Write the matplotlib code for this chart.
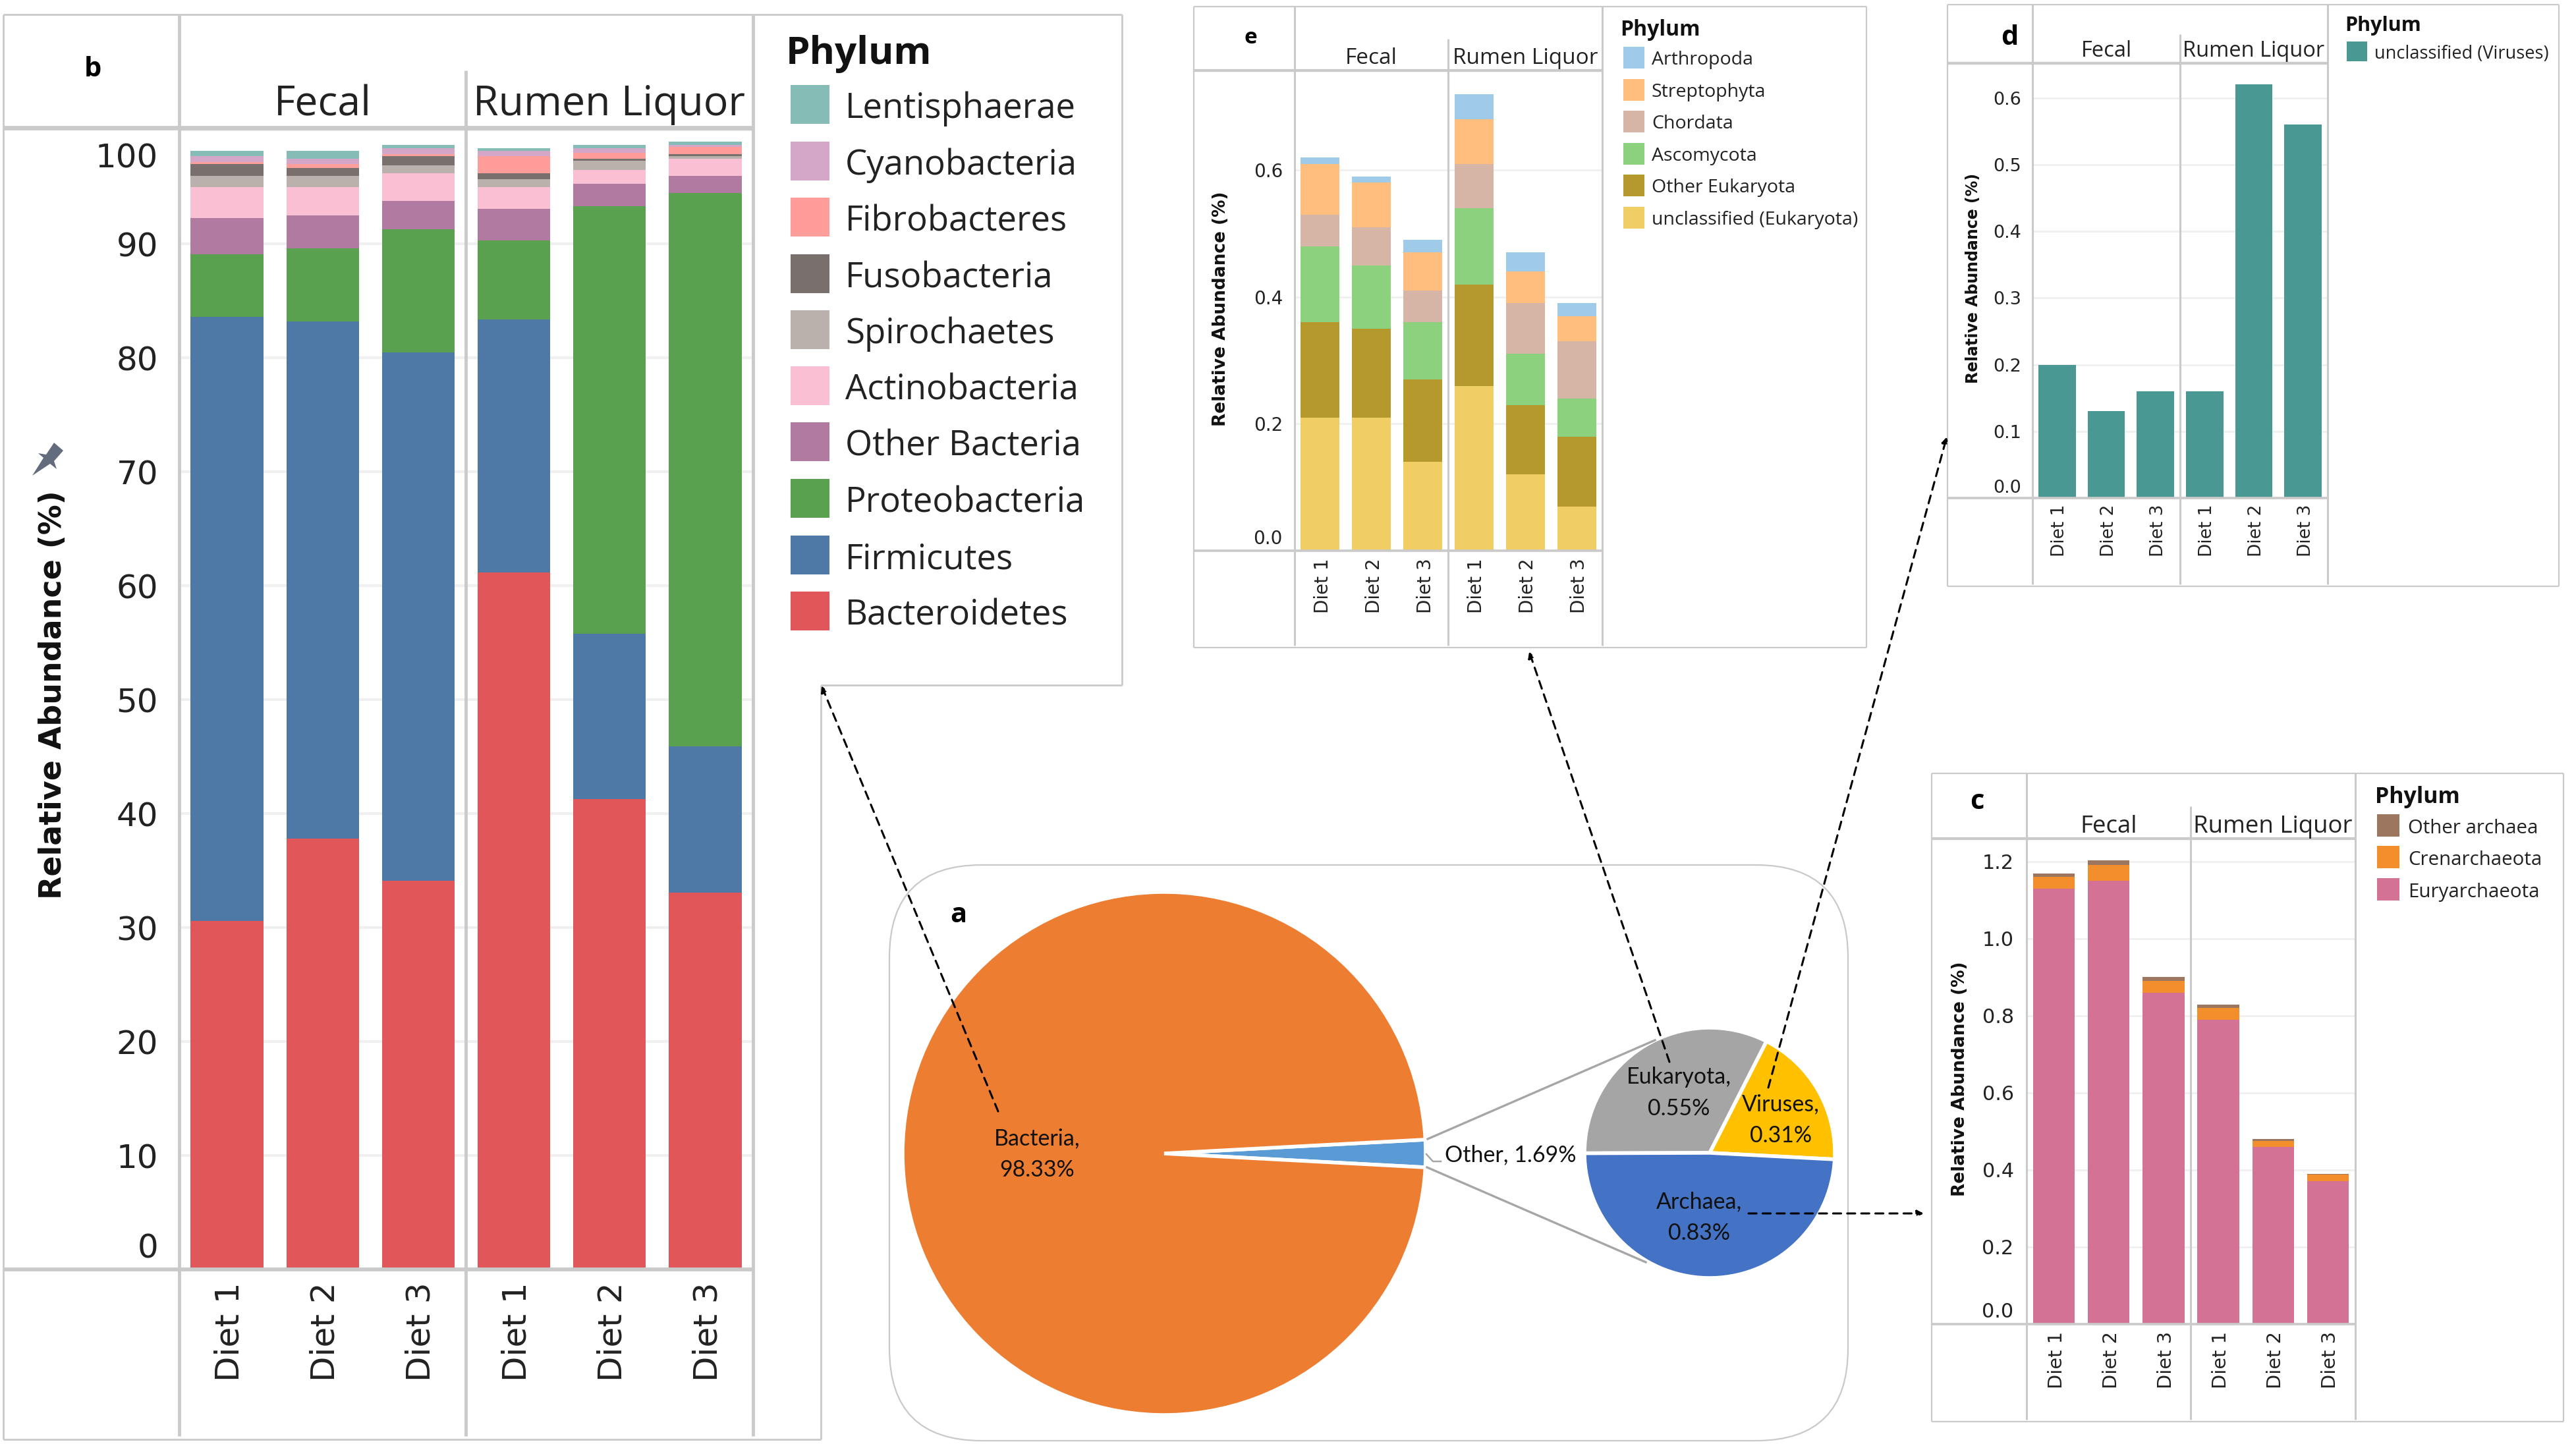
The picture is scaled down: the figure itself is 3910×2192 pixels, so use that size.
import numpy as np
import matplotlib
matplotlib.use('Agg')
import matplotlib.pyplot as plt
from matplotlib.patches import FancyBboxPatch, Polygon, Rectangle
from matplotlib.transforms import ScaledTranslation

W, H = 3910, 2192
GREY = '#cacaca'
FONT = 'Open Sans'
TICK_FONT = 'DejaVu Sans'

diets = ['Diet 1', 'Diet 2', 'Diet 3', 'Diet 1', 'Diet 2', 'Diet 3']
groups = ['Fecal', 'Rumen Liquor']

# panel a
main_names = ['Other', 'Bacteria']
main_share = [1.69, 98.33]
other_names = ['Viruses', 'Eukaryota', 'Archaea']
other_share = [0.31, 0.55, 0.83]

# panel b, bottom of the stack first
bacteria_names = ['Bacteroidetes', 'Firmicutes', 'Proteobacteria', 'Other Bacteria', 'Actinobacteria',
                  'Spirochaetes', 'Fusobacteria', 'Fibrobacteres', 'Cyanobacteria', 'Lentisphaerae']
bacteroidetes = [30.6, 37.8, 34.1, 61.2, 41.3, 33.1]
firmicutes = [53.0, 45.4, 46.4, 22.2, 14.5, 12.8]
proteobacteria = [5.5, 6.4, 10.8, 6.9, 37.5, 48.6]
other_bacteria = [3.2, 2.9, 2.5, 2.8, 2.0, 1.5]
actinobacteria = [2.7, 2.5, 2.4, 1.9, 1.2, 1.5]
spirochaetes = [1.0, 1.0, 0.7, 0.7, 0.8, 0.2]
fusobacteria = [1.0, 0.7, 0.8, 0.5, 0.2, 0.2]
fibrobacteres = [0.2, 0.3, 0.2, 1.5, 0.5, 0.6]
cyanobacteria = [0.5, 0.5, 0.5, 0.5, 0.4, 0.2]
lentisphaerae = [0.5, 0.7, 0.3, 0.2, 0.3, 0.3]
bacteria_series = [bacteroidetes, firmicutes, proteobacteria, other_bacteria, actinobacteria,
                   spirochaetes, fusobacteria, fibrobacteres, cyanobacteria, lentisphaerae]
bacteria_colors = ['#E15759', '#4E79A7', '#59A14F', '#B07AA1', '#FABFD2',
                   '#BAB0AC', '#79706E', '#FF9D9A', '#D4A6C8', '#86BCB6']
bacteria_ticks = [0, 10, 20, 30, 40, 50, 60, 70, 80, 90, 100]

# panel c
archaea_names = ['Euryarchaeota', 'Crenarchaeota', 'Other archaea']
euryarchaeota = [1.13, 1.15, 0.86, 0.79, 0.46, 0.37]
crenarchaeota = [0.03, 0.04, 0.03, 0.03, 0.015, 0.017]
other_archaea = [0.008, 0.012, 0.01, 0.008, 0.005, 0.003]
archaea_series = [euryarchaeota, crenarchaeota, other_archaea]
archaea_colors = ['#D37295', '#F28E2B', '#9D7660']
archaea_ticks = [0.0, 0.2, 0.4, 0.6, 0.8, 1.0, 1.2]

# panel d
virus_names = ['unclassified (Viruses)']
viruses = [0.20, 0.13, 0.16, 0.16, 0.62, 0.56]
virus_colors = ['#499894']
virus_ticks = [0.0, 0.1, 0.2, 0.3, 0.4, 0.5, 0.6]

# panel e
eukaryota_names = ['unclassified (Eukaryota)', 'Other Eukaryota', 'Ascomycota',
                   'Chordata', 'Streptophyta', 'Arthropoda']
unclassified_euk = [0.21, 0.21, 0.14, 0.26, 0.12, 0.07]
other_euk = [0.15, 0.14, 0.13, 0.16, 0.11, 0.11]
ascomycota = [0.12, 0.10, 0.09, 0.12, 0.08, 0.06]
chordata = [0.05, 0.06, 0.05, 0.07, 0.08, 0.09]
streptophyta = [0.08, 0.07, 0.06, 0.07, 0.05, 0.04]
arthropoda = [0.01, 0.01, 0.02, 0.04, 0.03, 0.02]
eukaryota_series = [unclassified_euk, other_euk, ascomycota, chordata, streptophyta, arthropoda]
eukaryota_colors = ['#F1CE63', '#B6992D', '#8CD17D', '#D7B5A6', '#FFBE7D', '#A0CBE8']
eukaryota_ticks = [0.0, 0.2, 0.4, 0.6]

fig = plt.figure(figsize=(W / 100, H / 100), dpi=100, facecolor='white')

# pixel layer for frames, legends and the dashed links
over = fig.add_axes([0, 0, 1, 1], zorder=5)
over.set_xlim(0, W)
over.set_ylim(H, 0)
over.axis('off')


def px_axes(x0, x1, ytop, ybot, **kw):
    return fig.add_axes([x0 / W, (H - ybot) / H, (x1 - x0) / W, (ybot - ytop) / H], **kw)


def vline(x, y0, y1, lw):
    over.plot([x, x], [y0, y1], color=GREY, lw=lw, solid_capstyle='butt')


def hline(x0, x1, y, lw):
    over.plot([x0, x1], [y, y], color=GREY, lw=lw, solid_capstyle='butt')


def outer_box(x0, x1, y0, y1, lw=1.6):
    hline(x0, x1, y0, lw)
    hline(x0, x1, y1, lw)
    vline(x0, y0, y1, lw)
    vline(x1, y0, y1, lw)


def stacked_panel(series, colors, ticks, fmt, box, ymax, first_pos, last_pos, sizes, pads):
    x0, x1, ytop, ybase = box
    ax = px_axes(x0, x1, ytop, ybase)
    ax.set_xlim(-0.5, 5.5)
    ax.set_ylim(0, ymax)
    for s in ax.spines.values():
        s.set_visible(False)
    x = np.arange(len(diets))
    ax.hlines(ticks[1:], -0.5, 5.5, color='#f0f0f0', lw=sizes['grid'], zorder=0)
    bottom = np.zeros(len(diets))
    for vals, col in zip(series, colors):
        ax.bar(x, vals, bottom=bottom, width=0.76, color=col, zorder=2)
        bottom = bottom + np.array(vals)
    tick_pos = list(ticks)
    tick_pos[0] = first_pos
    if last_pos is not None:
        tick_pos[-1] = last_pos
    ax.set_yticks(tick_pos, [fmt % t for t in ticks], fontsize=sizes['tick'], family=TICK_FONT)
    ax.set_xticks(x, diets, rotation=90, fontsize=sizes['diet'], family=TICK_FONT)
    ax.tick_params(axis='y', length=0, pad=pads[0], colors='#222222')
    ax.tick_params(axis='x', length=0, pad=pads[1], colors='#222222')
    # the diet labels sit a little right of the bar centres
    nudge = ScaledTranslation(4 / 100, 0, fig.dpi_scale_trans)
    for lab in ax.get_xticklabels():
        lab.set_transform(lab.get_transform() + nudge)
    return ax


def frame_lines(left, v0, v1, v2, top, div_top, head, base, end, lw):
    vline(v0, top, end, lw)
    vline(v1, div_top, end, lw)
    vline(v2, top, end, lw)
    hline(left, v2, head, lw * 1.4)
    hline(left, v2, base, lw * 1.2)


def group_heads(v0, v1, v2, y, size):
    over.text((v0 + v1) / 2, y, groups[0], ha='center', va='baseline', family=FONT, fontsize=size, color='#222222')
    over.text((v1 + v2) / 2, y, groups[1], ha='center', va='baseline', family=FONT, fontsize=size, color='#222222')


def phylum_legend(names, colors, title_xy, title_size, sw_x, sw_w, sw_h, rows, txt_x, txt_size):
    over.text(title_xy[0], title_xy[1], 'Phylum', family=FONT, fontweight='bold', fontsize=title_size,
              va='baseline', ha='left', color='#111111')
    for name, col, y in zip(names, colors, rows):
        over.add_patch(Rectangle((sw_x, y - sw_h / 2), sw_w, sw_h, facecolor=col, edgecolor='none'))
        over.text(txt_x, y + 0.556 * txt_size, name, family=FONT, fontsize=txt_size, va='baseline', ha='left',
                  color='#222222')


def y_title(x, y, size):
    over.text(x, y, 'Relative Abundance (%)', rotation=90, ha='center', va='center', family=TICK_FONT,
              fontweight='bold', fontsize=size, color='#111111')


def dashed_link(start, end):
    over.annotate('', xy=end, xytext=start,
                  arrowprops=dict(arrowstyle='-|>', linestyle=(0, (4, 3)), color='black', lw=2.2,
                                  mutation_scale=14, shrinkA=0, shrinkB=0))


# panel b
stacked_panel(bacteria_series, bacteria_colors, bacteria_ticks, '%d', (272, 1143, 194, 1927), 100.2,
              2.1, 97.8, dict(tick=36, diet=36, grid=3), (23, 14))
frame_lines(5, 272, 707, 1143, 22, 107, 194, 1927, 2180, 3.5)
hline(5, 1703, 22, 2)
hline(5, 1246, 2185, 2)
vline(5, 22, 2185, 2)
vline(1246, 1040, 2185, 2)
vline(1703, 22, 1040, 2)
hline(1246, 1703, 1040, 2)
group_heads(272, 707, 1143, 175, 45)
phylum_legend(bacteria_names[::-1], bacteria_colors[::-1], (1193, 97), 42, 1200, 59, 59,
              [158, 244, 329, 415, 500, 585, 670, 756, 842, 927], 1283, 38)
y_title(81, 1055, 33)
over.text(141, 106, 'b', family=FONT, fontweight='bold', fontsize=30, ha='center', va='center')
# pin icon next to the axis title
over.add_patch(Polygon([(49, 722), (66, 695), (58, 688), (70, 690), (82, 672), (96, 684),
                        (82, 700), (86, 712), (76, 704)], closed=True, facecolor='#626c7c', edgecolor='none'))

# panel e
stacked_panel(eukaryota_series, eukaryota_colors, eukaryota_ticks, '%.1f', (1965, 2432, 107, 836), 0.757,
              0.022, None, dict(tick=20, diet=20, grid=2), (13, 8))
frame_lines(1812, 1965, 2198, 2432, 10, 59, 107, 836, 980, 2.2)
outer_box(1812, 2833, 10, 983)
group_heads(1965, 2198, 2432, 97, 24)
phylum_legend(eukaryota_names[::-1], eukaryota_colors[::-1], (2459, 54), 23, 2464, 32, 33,
              [87, 136, 184, 233, 281, 330], 2507, 20.5)
y_title(1853, 469, 19)
over.text(1898, 57, 'e', family=FONT, fontweight='bold', fontsize=24, ha='center', va='center')

# panel d
stacked_panel([viruses], virus_colors, virus_ticks, '%.1f', (3085, 3533, 96, 756), 0.652,
              0.018, None, dict(tick=19.5, diet=19, grid=2), (12, 7))
frame_lines(2956, 3085, 3309, 3533, 7, 52, 96, 756, 887, 2.2)
outer_box(2956, 3884, 7, 890)
group_heads(3085, 3309, 3533, 86, 23.5)
phylum_legend(virus_names, virus_colors, (3559, 47), 22, 3562, 31, 30, [78], 3604, 19.5)
y_title(2995, 422, 17)
over.text(3050, 58, 'd', family=FONT, fontweight='bold', fontsize=30, ha='center', va='center')

# panel c
stacked_panel(archaea_series, archaea_colors, archaea_ticks, '%.1f', (3076, 3575, 1273, 2010), 1.259,
              0.037, None, dict(tick=21.7, diet=20.7, grid=2), (14, 8))
frame_lines(2932, 3076, 3325, 3575, 1174, 1224, 1273, 2010, 2155, 2.2)
outer_box(2932, 3891, 1174, 2158)
group_heads(3076, 3325, 3575, 1264, 26.4)
phylum_legend(archaea_names[::-1], archaea_colors[::-1], (3605, 1219), 24.5, 3608, 34, 34,
              [1253, 1301, 1350], 3655, 21.2)
y_title(2975, 1638, 19)
over.text(3001, 1218, 'c', family=FONT, fontweight='bold', fontsize=30, ha='center', va='center')

# panel a
over.add_patch(FancyBboxPatch((1350, 1313), 1455, 874, boxstyle='round,pad=0,rounding_size=140',
                              facecolor='none', edgecolor='#c9c9c9', lw=1.6))

big = px_axes(1767 - 397, 1767 + 397, 1751 - 397, 1751 + 397)
big.pie(main_share, colors=['#5B9BD5', '#ED7D31'], startangle=-main_share[0] * 1.8,
        wedgeprops=dict(edgecolor='white', lw=4), radius=1)
big.set_xlim(-1, 1)
big.set_ylim(-1, 1)

small = px_axes(2595 - 190, 2595 + 190, 1750 - 190, 1750 + 190)
small.pie(other_share, colors=['#FFC000', '#A5A5A5', '#4472C4'], startangle=-3,
          wedgeprops=dict(edgecolor='white', lw=4), radius=1)
small.set_xlim(-1, 1)
small.set_ylim(-1, 1)

over.plot([2167, 2512], [1729, 1579], color='#a6a6a6', lw=2.4)
over.plot([2166, 2498], [1772, 1916], color='#a6a6a6', lw=2.4)
over.plot([2165, 2175, 2187], [1752, 1763, 1763], color='#a6a6a6', lw=1.8)

pie_font = dict(family='Lato', fontsize=24.5, ha='center', va='center', color='#111111', linespacing=1.6)
over.text(1574, 1752, '%s,\n%.2f%%' % (main_names[1], main_share[1]), **pie_font)
over.text(2293, 1753, '%s, %.2f%%' % (main_names[0], main_share[0]), **pie_font)
over.text(2548, 1659, '%s,\n%.2f%%' % (other_names[1], other_share[1]), **pie_font)
over.text(2703, 1700, '%s,\n%.2f%%' % (other_names[0], other_share[0]), **pie_font)
over.text(2579, 1848, '%s,\n%.2f%%' % (other_names[2], other_share[2]), **pie_font)
over.text(1455, 1390, 'a', family=FONT, fontweight='bold', fontsize=30, ha='center', va='center')

dashed_link((1515, 1687), (1247, 1041))
dashed_link((2534, 1612), (2321, 989))
dashed_link((2684, 1651), (2955, 663))
dashed_link((2654, 1842), (2920, 1842))

fig.savefig('out.png', dpi=100, facecolor='white')
